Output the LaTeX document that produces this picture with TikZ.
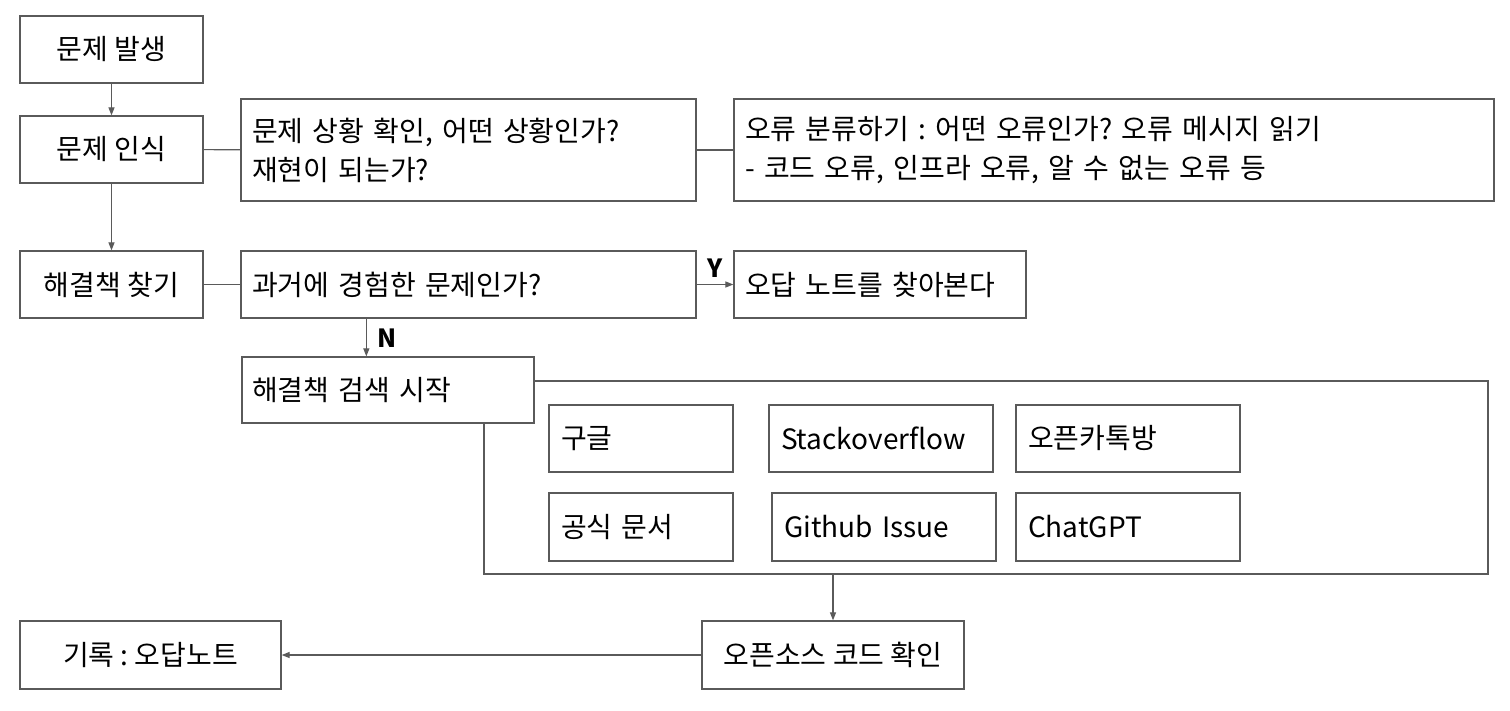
\documentclass[tikz,border=0pt]{standalone}
\usepackage{fontspec}
\newfontfamily\kr{Noto Sans CJK KR}
\usetikzlibrary{arrows.meta,calc}
\definecolor{linec}{HTML}{5A5A5A}
\frenchspacing
\tikzset{
  box/.style={draw=linec, line width=1.3pt, fill=white, font=\kr\fontsize{28}{39}\selectfont,
    inner ysep=0pt, minimum height=67pt, text=black},
  cbox/.style={box, align=center},
  conn/.style={draw=linec, line width=1.2pt},
  arr/.style={conn, -{Triangle[length=8pt,width=6pt]}},
  yn/.style={font=\kr\fontsize{25}{28}\selectfont\bfseries, text=black, inner sep=0pt}
}
\begin{document}
\begin{tikzpicture}[x=1pt,y=-1pt]
\useasboundingbox (0,0) rectangle (1510,710);
% container behind search box
\node[draw=linec, line width=1.3pt, minimum width=1004pt, minimum height=193pt, inner sep=0pt] (cont) at (986,477.5) {};
% left column
\node[cbox, minimum width=183pt] (p1) at (111.5,49.5) {문제 발생};
\node[cbox, minimum width=183pt] (p2) at (111.5,149.5) {문제 인식};
\node[cbox, minimum width=183pt] (p3) at (111.5,284.5) {해결책 찾기};
% row 1
\node[box, minimum height=102pt, text width=433pt, inner xsep=11pt, align=left] (s1) at (468.5,150)
  {문제 상황 확인, 어떤 상황인가?\\재현이 되는가?};
\node[box, minimum height=102pt, text width=738pt, inner xsep=11pt, align=left] (s2) at (1114,150)
  {오류 분류하기 : 어떤 오류인가? 오류 메시지 읽기\\- 코드 오류, 인프라 오류, 알 수 없는 오류 등};
% row 2
\node[box, text width=433pt, inner xsep=11pt, align=left] (q) at (468.5,284.5) {과거에 경험한 문제인가?};
\node[box, text width=270pt, inner xsep=11pt, align=left] (yes) at (880,284.5) {오답 노트를 찾아본다};
% search
\node[box, minimum height=66pt, text width=272pt, inner xsep=10pt, align=left] (srch) at (388,390) {해결책 검색 시작};
\node[box, text width=160pt, inner xsep=12pt, align=left] (g1) at (641,438.5) {구글};
\node[box, text width=200pt, inner xsep=12pt, align=left] (g2) at (881,438.5) {Stackoverflow};
\node[box, text width=200pt, inner xsep=12pt, align=left] (g3) at (1128,438.5) {오픈카톡방};
\node[box, minimum height=68pt, text width=160pt, inner xsep=12pt, align=left] (g4) at (641,527) {공식 문서};
\node[box, minimum height=68pt, text width=200pt, inner xsep=12pt, align=left] (g5) at (884,527) {Github Issue};
\node[box, minimum height=68pt, text width=200pt, inner xsep=12pt, align=left] (g6) at (1128,527) {ChatGPT};
% bottom
\node[cbox, minimum height=68pt, minimum width=262pt] (osc) at (833,655) {오픈소스 코드 확인};
\node[cbox, minimum height=68pt, minimum width=261pt] (rec) at (150.5,655) {기록 : 오답노트};
% connectors
\draw[arr] (p1) -- (p2);
\draw[arr] (p2) -- (p3);
\draw[conn] (p2) -- (s1);
\draw[conn] (s1) -- (s2);
\draw[conn] (p3) -- (q);
\draw[arr] (q) -- (yes);
\node[yn] (ylab) at (715,268) {Y};
\coordinate (nstart) at ($(q.south west)+(126,0)$);
\draw[arr] (nstart) -- (nstart |- srch.north);
\node[yn] (nlab) at (387,338) {N};
\draw[arr] (cont.south -| osc.north) -- (osc);
\draw[arr] (osc) -- (rec);
\end{tikzpicture}
\end{document}
